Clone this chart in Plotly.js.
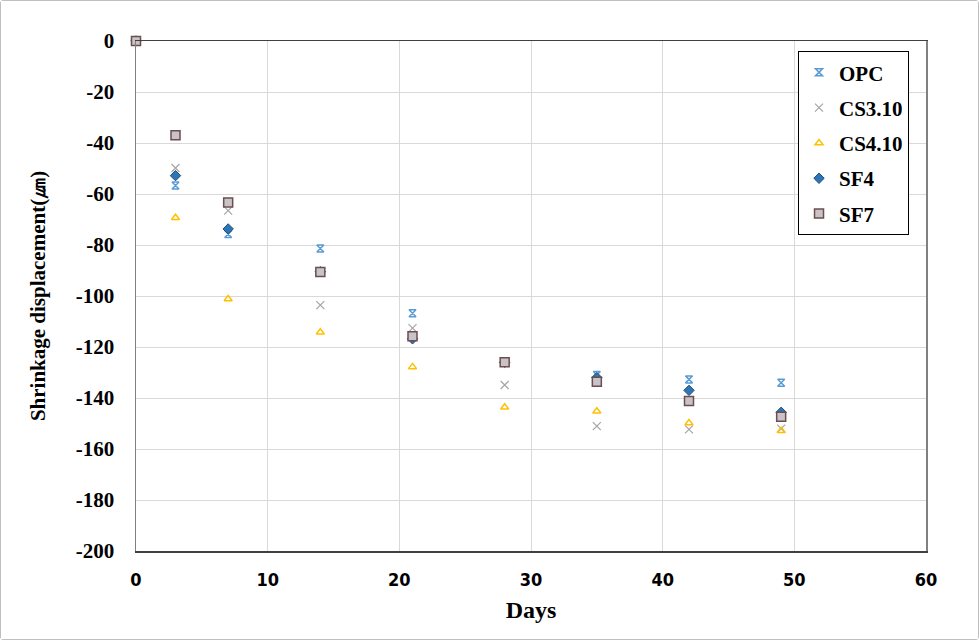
<!DOCTYPE html>
<html>
<head>
<meta charset="utf-8">
<script src="https://cdn.plot.ly/plotly-3.0.1.min.js"></script>
<style>
	html, body { margin: 0; padding: 0; background: #fff; }
	#chart { width: 979px; height: 640px; box-sizing: border-box; border: 1px solid #BFBFBF; border-radius: 3px; }
</style>
</head>
<body>
<div id="chart"></div>
<script>
var days = [0, 3, 7, 14, 21, 28, 35, 42, 49];

var opc = [0, -56.7, -75.7, -81.4, -106.8, -126, -131, -132.7, -134];
var cs310 = [0, -49.8, -66.5, -103.6, -112.6, -134.9, -151, -152.3, -152];
var cs410 = [0, -69.3, -101.2, -114.2, -127.8, -143.6, -145.2, -149.8, -152.8];
var sf4 = [0, -52.8, -73.7, -90.5, -116.8, -126, -132, -137, -145.6];
var sf7 = [0, -37, -63.3, -90.6, -115.8, -126, -133.6, -141.2, -147.4];

// tick labels (hyphen minus, like the original)
var xticks = [0, 10, 20, 30, 40, 50, 60];
var yticks = [0, -20, -40, -60, -80, -100, -120, -140, -160, -180, -200];

var serif = "Liberation Serif";

function series(name, y, marker) {
	return {
		type: "scatter",
		mode: "markers",
		x: days,
		y: y,
		name: "<b>" + name + "</b>",
		legendgroup: name,
		cliponaxis: false,
		marker: marker
	};
}

var data = [
	series("OPC", opc, {
		symbol: "hourglass-open",
		size: 7,
		color: "#5B9BD5",
		line: { color: "#5B9BD5", width: 1.5 }
	}),
	series("CS3.10", cs310, {
		symbol: "x-thin-open",
		size: 8,
		color: "#A5A5A5",
		line: { color: "#A5A5A5", width: 1.2 }
	}),
	series("CS4.10", cs410, {
		symbol: "triangle-up-open",
		size: 7,
		color: "#FFC000",
		line: { color: "#FFC000", width: 1.5 }
	}),
	series("SF4", sf4, {
		symbol: "diamond",
		size: 8,
		color: "#2E75B6",
		line: { color: "#1F4E79", width: 1 }
	}),
	series("SF7", sf7, {
		symbol: "square",
		size: 9,
		color: "#C9C2C9",
		line: { color: "#6B4F4F", width: 1.5 }
	})
];

var layout = {
	width: 977,
	height: 638,
	paper_bgcolor: "#ffffff",
	plot_bgcolor: "#ffffff",
	margin: { l: 135, r: 52, t: 40, b: 88 },
	font: { family: serif, color: "#000000" },
	xaxis: {
		range: [0, 60],
		tickmode: "array",
		tickvals: xticks,
		ticktext: xticks.map(function (v) { return "<b>" + v + "</b>"; }),
		showgrid: true,
		gridcolor: "#D9D9D9",
		gridwidth: 1,
		zeroline: false,
		showline: true,
		linecolor: "#404040",
		linewidth: 1.5,
		mirror: true,
		ticks: "",
		ticklabelstandoff: 12,
		tickfont: { family: "Liberation Sans Narrow, Arial Narrow, DejaVu Sans Condensed, sans-serif", size: 18 },
		title: {
			text: "<b>Days</b>",
			font: { family: serif, size: 24 },
			standoff: 12
		}
	},
	yaxis: {
		range: [-200, 0],
		tickmode: "array",
		tickvals: yticks,
		ticktext: yticks.map(function (v) { return "<b>" + String(v).replace("\u2212", "-") + "</b>"; }),
		showgrid: true,
		gridcolor: "#D9D9D9",
		gridwidth: 1,
		zeroline: false,
		showline: true,
		linecolor: "#808080",
		linewidth: 1.5,
		mirror: true,
		ticks: "",
		ticklabelstandoff: 16,
		tickfont: { family: serif, size: 21 },
		title: {
			text: "<b>Shrinkage displacement(\u339B)</b>",
			font: { family: serif, size: 21 },
			standoff: 24
		}
	},
	showlegend: true,
	legend: {
		x: 0.838,
		y: 0.98,
		xanchor: "left",
		yanchor: "top",
		bgcolor: "#ffffff",
		bordercolor: "#000000",
		borderwidth: 1,
		tracegroupgap: 5,
		itemwidth: 30,
		font: { family: serif, size: 21 }
	}
};

Plotly.newPlot("chart", data, layout, { displayModeBar: false, staticPlot: true });
</script>
</body>
</html>
